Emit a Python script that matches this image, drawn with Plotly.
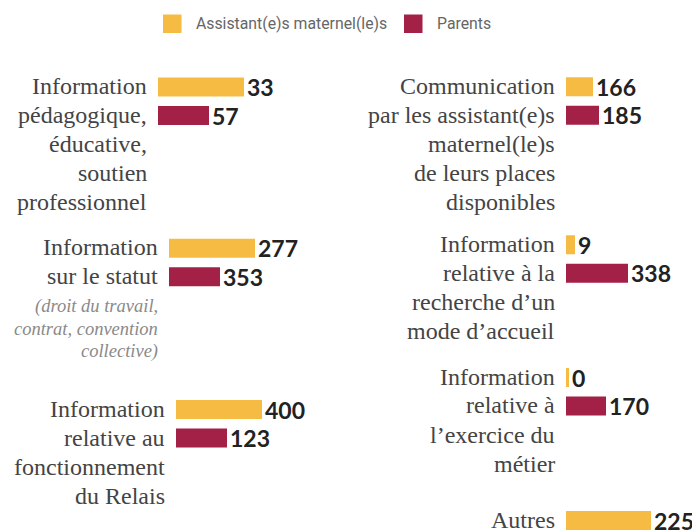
import plotly.graph_objects as go

# ---------------- data ----------------
series_names = ["Assistant(e)s maternel(le)s", "Parents"]
category_lines = [
    ["Information", "pédagogique,", "éducative,", "soutien", "professionnel"],
    ["Information", "sur le statut"],
    ["Information", "relative au", "fonctionnement", "du Relais"],
    ["Communication", "par les assistant(e)s", "maternel(le)s", "de leurs places", "disponibles"],
    ["Information", "relative à la", "recherche d’un", "mode d’accueil"],
    ["Information", "relative à", "l’exercice du", "métier"],
    ["Autres"],
]
category_notes = [
    [],
    ["(droit du travail,", "contrat, convention", "collective)"],
    [], [], [], [], [],
]
# values printed next to the bars
assistants = [33, 277, 400, 166, 9, 0, 225]
parents = [57, 353, 123, 185, 338, 170, None]
# bar lengths as drawn in the picture (display units)
bar_assistants = [86, 86, 86, 27, 9, 3, 85]
bar_parents = [51, 51, 51, 33, 62, 40, None]

# ---------------- style / layout ----------------
OFF = 8                       # page body margin
W, H = 700 - OFF, 532 - OFF   # figure fits inside the window
C_ASS = "#F6BB42"
C_PAR = "#A32147"
LABEL_FONT = "Liberation Serif"
VALUE_FONT = "Lato"
bar_x0 = [158, 169, 176, 566, 566, 566, 566]     # px (window), left edge of bars
first_center = [87, 248.3, 409.5, 86.7, 244.8, 377.5, 520.5]  # px (window), centre of first bar
PITCH = 28.5        # px between the two bars of a group
BAR_H = 19          # px bar thickness
LINE = 29           # px between label lines
NOTE_LINE = 22.5
AX_W = 100          # px width of each group's x axis (1 unit = 1 px)


def py(p):
    return 1 - (p - OFF) / H


def px(p):
    return (p - OFF) / W


fig = go.Figure()
annotations = []
layout_axes = {}

for k in range(len(category_lines)):
    i = k + 1
    xa = "x" if i == 1 else f"x{i}"
    ya = "y" if i == 1 else f"y{i}"
    c1 = first_center[k]
    top = c1 - PITCH / 2
    bottom = min(c1 + 1.5 * PITCH, H + OFF)
    span = (bottom - top) / PITCH
    layout_axes["xaxis" if i == 1 else f"xaxis{i}"] = dict(
        domain=[px(bar_x0[k]), px(bar_x0[k] + AX_W)], range=[0, AX_W],
        visible=False, fixedrange=True, anchor=ya)
    layout_axes["yaxis" if i == 1 else f"yaxis{i}"] = dict(
        domain=[py(bottom), py(top)], range=[-0.5 + span, -0.5],
        visible=False, fixedrange=True, anchor=xa)

    for s, (bars, vals, col) in enumerate([(bar_assistants, assistants, C_ASS),
                                           (bar_parents, parents, C_PAR)]):
        if bars[k] is None:
            continue
        fig.add_trace(go.Bar(
            orientation="h", x=[bars[k]], y=[s], width=BAR_H / PITCH,
            xaxis=xa, yaxis=ya, name=series_names[s], showlegend=False,
            marker=dict(color=col, line=dict(width=0)),
            text=[str(vals[k])], textposition="outside", cliponaxis=False,
            constraintext="none",
            textfont=dict(family=VALUE_FONT, size=23, color="#222222", weight="bold"),
            hoverinfo="skip"))

    # category label lines
    x_right = bar_x0[k] - 11 + 2
    for j, line in enumerate(category_lines[k]):
        annotations.append(dict(
            x=px(x_right), y=py(c1 - 1 + j * LINE), xref="paper", yref="paper",
            xanchor="right", yanchor="middle", showarrow=False, text=line,
            font=dict(family=LABEL_FONT, size=24, color="#444444")))
    base = c1 - 1 + (len(category_lines[k]) - 1) * LINE
    for j, line in enumerate(category_notes[k]):
        annotations.append(dict(
            x=px(x_right), y=py(base + 30 + j * NOTE_LINE), xref="paper", yref="paper",
            xanchor="right", yanchor="middle", showarrow=False, text=f"<i>{line}</i>",
            font=dict(family=LABEL_FONT, size=18.5, color="#8a8a8a")))

# custom legend
shapes = []
for (sx, col, tx, name) in [(163, C_ASS, 196, series_names[0]), (404, C_PAR, 437, series_names[1])]:
    shapes.append(dict(type="rect", xref="paper", yref="paper",
                       x0=px(sx), x1=px(sx + 18.5), y0=py(33), y1=py(14.5),
                       fillcolor=col, line=dict(width=0)))
    annotations.append(dict(x=px(tx - 2), y=py(23.5), xref="paper", yref="paper",
                            xanchor="left", yanchor="middle", showarrow=False, text=name,
                            font=dict(family="Roboto", size=15.8, color="#666666")))

fig.update_layout(
    width=W, height=H, margin=dict(l=0, r=0, t=0, b=0),
    paper_bgcolor="white", plot_bgcolor="white",
    barmode="overlay", annotations=annotations, shapes=shapes,
    **layout_axes)

fig.write_html("out.html")
